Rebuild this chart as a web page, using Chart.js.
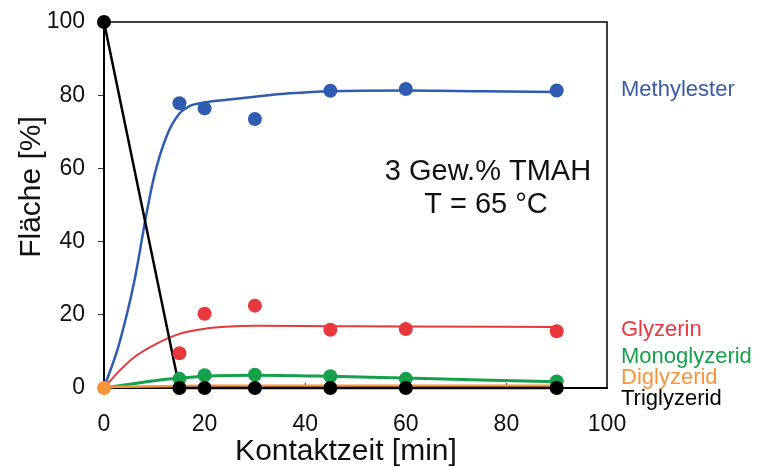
<!DOCTYPE html>
<html>
<head>
<meta charset="utf-8">
<script src="https://cdn.jsdelivr.net/npm/chart.js@4.4.1/dist/chart.umd.min.js"></script>
<style>
html,body{margin:0;padding:0;background:#fff;}
#wrap{width:758px;height:468px;}
</style>
</head>
<body>
<div id="wrap"><canvas id="c" width="758" height="468"></canvas></div>
<script>
// measured values
const measTime = [0, 15, 20, 30, 45, 60, 90];
const methylesterMeas = [null, 77.8, 76.4, 73.5, 81.2, 81.7, 81.3];
const glyzerinMeas = [null, 9.5, 20.3, 22.5, 15.9, 16.1, 15.5];
const monoMeas = [null, 2.5, 3.5, 3.6, 3.2, 2.5, 1.8];
const diMeas = [0, null, null, null, null, null, null];
const triMeas = [100, 0, 0, 0, 0, 0, 0];

// fitted curves
const methylesterFitT = [0, 3, 6, 8.5, 10, 12.5, 15, 17, 20, 24, 30, 37, 45, 60, 75, 90];
const methylesterFit = [0, 12, 29, 48, 58, 69, 75, 77, 78, 78.7, 79.6, 80.5, 81.1, 81.3, 81.1, 80.9];
const glyzerinFitT = [0, 3, 6, 10, 15, 20, 25, 30, 45, 60, 90];
const glyzerinFit = [0, 4.6, 8.4, 11.8, 14.8, 16.2, 16.8, 17, 16.9, 16.8, 16.7];
const monoFitT = [0, 10, 15, 20, 30, 45, 60, 90];
const monoFit = [0, 2, 2.7, 3.2, 3.5, 3.2, 2.7, 1.7];
const diFitT = [0, 20, 90];
const diFit = [0.3, 0.6, 0.6];

const xTicks = [0, 20, 40, 60, 80, 100];
const yTicks = [0, 20, 40, 60, 80, 100];

const seriesNames = ['Methylester', 'Glyzerin', 'Monoglyzerid', 'Diglyzerid', 'Triglyzerid'];
const annotationLines = ['3 Gew.% TMAH', 'T = 65 °C'];
const xTitle = 'Kontaktzeit [min]';
const yTitle = 'Fläche [%]';

const C = {
  blue: '#2f5cb0', red: '#e8383e', green: '#17a04b', orange: '#f5953a', black: '#000000'
};
const FONT = '"Liberation Sans", Arial, Helvetica, sans-serif';

function pts(xs, ys) {
  const out = [];
  for (let i = 0; i < xs.length; i++) if (ys[i] !== null) out.push({x: xs[i], y: ys[i]});
  return out;
}
function lineDS(xs, ys, color, w, order, tension) {
  return {data: pts(xs, ys), showLine: true, borderColor: color, borderWidth: w,
    pointRadius: 0, pointHoverRadius: 0, cubicInterpolationMode: tension ? 'monotone' : 'default',
    tension: 0, clip: false, order: order, fill: false};
}
function pointDS(xs, ys, color, order) {
  return {data: pts(xs, ys), showLine: false, backgroundColor: color, borderColor: color,
    borderWidth: 0, pointRadius: 7, pointHoverRadius: 7, clip: false, order: order};
}

const datasets = [
  lineDS(methylesterFitT, methylesterFit, C.blue, 2.5, 20, true),
  lineDS(glyzerinFitT, glyzerinFit, C.red, 2, 19, true),
  lineDS(monoFitT, monoFit, C.green, 3, 18, true),
  lineDS(diFitT, diFit, C.orange, 2.5, 17, false),
  lineDS(measTime, triMeas, C.black, 2.5, 16, false),
  pointDS(measTime, methylesterMeas, C.blue, 10),
  pointDS(measTime, glyzerinMeas, C.red, 9),
  pointDS(measTime, monoMeas, C.green, 8),
  pointDS(measTime, triMeas, C.black, 7),
  pointDS(measTime, diMeas, C.orange, 1)
];

const decor = {
  id: 'decor',
  beforeDatasetsDraw(chart) {
    const ctx = chart.ctx, a = chart.chartArea, xs = chart.scales.x;
    ctx.save();
    ctx.strokeStyle = '#000';
    ctx.lineWidth = 1.5;
    ctx.beginPath();
    ctx.moveTo(a.left, a.top); ctx.lineTo(a.right, a.top); ctx.lineTo(a.right, a.bottom);
    ctx.stroke();
    ctx.lineWidth = 1;
    ctx.strokeStyle = '#333';
    xTicks.forEach(v => {
      const px = xs.getPixelForValue(v);
      ctx.beginPath(); ctx.moveTo(px, a.bottom); ctx.lineTo(px, a.bottom - 5); ctx.stroke();
    });
    ctx.restore();
  },
  afterDraw(chart) {
    const ctx = chart.ctx;
    ctx.save();
    ctx.fillStyle = '#111';
    ctx.font = '30px ' + FONT;
    ctx.textAlign = 'center';
    ctx.textBaseline = 'alphabetic';
    ctx.fillText(xTitle, 346, 460);
    ctx.save();
    ctx.translate(40, 187);
    ctx.rotate(-Math.PI / 2);
    ctx.fillText(yTitle, 0, 0);
    ctx.restore();
    ctx.font = '29px ' + FONT;
    ctx.fillText(annotationLines[0], 488, 180);
    ctx.fillText(annotationLines[1], 486, 213);
    ctx.textAlign = 'left';
    ctx.font = '22px ' + FONT;
    const labs = [
      [seriesNames[0], '#3a5aa8', 96],
      [seriesNames[1], C.red, 336],
      [seriesNames[2], C.green, 363],
      [seriesNames[3], C.orange, 384],
      [seriesNames[4], '#000', 405]
    ];
    labs.forEach(l => { ctx.fillStyle = l[1]; ctx.fillText(l[0], 621, l[2]); });
    ctx.restore();
  }
};

new Chart(document.getElementById('c'), {
  type: 'scatter',
  data: {datasets},
  options: {
    responsive: false,
    animation: false,
    events: [],
    layout: {autoPadding: false, padding: {left: 0, right: 151, top: 22, bottom: 0}},
    plugins: {legend: {display: false}, tooltip: {enabled: false}},
    scales: {
      x: {
        type: 'linear', min: 0, max: 100,
        afterBuildTicks(s) { s.ticks = xTicks.map(v => ({value: v})); },
        afterFit(s) { s.height = 80; s.paddingLeft = 0; s.paddingRight = 0; },
        grid: {display: true, drawOnChartArea: false, drawTicks: false, color: '#000'},
        border: {display: true, color: '#000', width: 2},
        ticks: {padding: 23, color: '#111', font: {family: FONT, size: 23}, maxRotation: 0}
      },
      y: {
        type: 'linear', min: 0, max: 100,
        afterBuildTicks(s) { s.ticks = yTicks.map(v => ({value: v})); },
        afterFit(s) { s.width = 104; s.paddingTop = 0; s.paddingBottom = 0; },
        grid: {display: true, drawOnChartArea: false, drawTicks: true, tickLength: 6, tickColor: '#333', tickWidth: 1},
        border: {display: true, color: '#000', width: 2},
        ticks: {padding: 13, color: '#111', font: {family: FONT, size: 23}}
      }
    }
  },
  plugins: [decor]
});
</script>
</body>
</html>
